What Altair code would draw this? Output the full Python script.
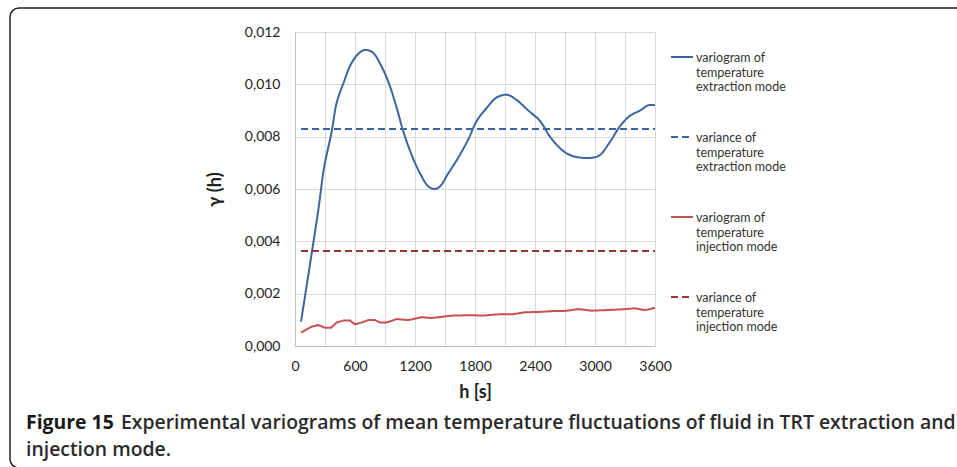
import altair as alt
import pandas as pd

# ---- data ----
h_ext = [60, 233, 290, 367, 417, 490, 550, 617, 683, 733, 783, 850, 933, 1017, 1083,
         1167, 1250, 1333, 1393, 1450, 1533, 1633, 1733, 1817, 1917, 2017, 2123, 2217,
         2333, 2450, 2550, 2667, 2750, 2850, 2983, 3050, 3150, 3250, 3350, 3450, 3533, 3600]
g_ext = [0.00093, 0.0052, 0.0068, 0.0082, 0.0093, 0.0101, 0.0107, 0.0111, 0.0113, 0.0113,
         0.0112, 0.0108, 0.0101, 0.0091, 0.0082, 0.0073, 0.0066, 0.0061, 0.0060, 0.0061,
         0.0066, 0.0072, 0.0079, 0.0086, 0.0091, 0.0095, 0.0096, 0.0094, 0.0090, 0.0086,
         0.0080, 0.0075, 0.0073, 0.0072, 0.0072, 0.0073, 0.0078, 0.0084, 0.0088, 0.0090,
         0.0092, 0.0092]

h_inj = [60, 167, 233, 300, 360, 417, 483, 550, 600, 667, 733, 800, 850, 917, 1017, 1133,
         1267, 1367, 1567, 1767, 1867, 2033, 2167, 2300, 2433, 2600, 2700, 2833, 2967,
         3100, 3267, 3400, 3500, 3600]
g_inj = [0.00051, 0.00074, 0.00080, 0.00070, 0.00070, 0.00090, 0.00097, 0.00097, 0.00083,
         0.00090, 0.00099, 0.00099, 0.00090, 0.00090, 0.00103, 0.00099, 0.00110, 0.00107,
         0.00116, 0.00118, 0.00116, 0.00121, 0.00121, 0.00129, 0.00130, 0.00134, 0.00134,
         0.00141, 0.00135, 0.00137, 0.00140, 0.00144, 0.00137, 0.00146]

h_span = [60, 3600]
var_ext = 0.00829
var_inj = 0.00363

series = ["variogram of|temperature|extraction mode",
          "variance of|temperature|extraction mode",
          "variogram of|temperature|injection mode",
          "variance of|temperature|injection mode"]
colors = ["#3b64a0", "#3b64a0", "#c9504f", "#953735"]
dashes = [[1, 0], [7, 4], [1, 0], [7, 4]]

x_ticks = list(range(0, 3601, 300))
y_ticks = [0.0, 0.002, 0.004, 0.006, 0.008, 0.010, 0.012]

caption_1 = "Figure 15"
caption_2 = "Experimental variograms of mean temperature fluctuations of fluid in TRT extraction and"
caption_3 = "injection mode."

# ---- tables ----
df_ext = pd.DataFrame({"h": h_ext, "g": g_ext, "series": series[0]})
df_other = pd.concat([
    pd.DataFrame({"h": h_span, "g": [var_ext] * 2, "series": series[1]}),
    pd.DataFrame({"h": h_inj, "g": g_inj, "series": series[2]}),
    pd.DataFrame({"h": h_span, "g": [var_inj] * 2, "series": series[3]}),
])

FONT = "Lato"

x_enc = alt.X("h:Q", scale=alt.Scale(domain=[0, 3600], nice=False, zero=False),
              axis=alt.Axis(values=x_ticks, format="d",
                            labelExpr="datum.value % 600 == 0 ? datum.label : ''",
                            labelFlush=False,
                            title="h [s]", titleX=180, titleY=46,
                            titleBaseline="middle", titleAlign="center",
                            ticks=False, labelPadding=13))
y_enc = alt.Y("g:Q", scale=alt.Scale(domain=[0, 0.012], nice=False),
              axis=alt.Axis(values=y_ticks,
                            labelExpr="replace(format(datum.value, '.3f'), '.', ',')",
                            title="γ (h)", titleX=-80, titleY=157,
                            titleBaseline="middle", titleAlign="center",
                            ticks=False, labelPadding=15))
legend = alt.Legend(title=None, orient="none", legendX=375, legendY=18,
                    direction="vertical", symbolType="M-1,-0.45L1,-0.45", symbolSize=484,
                    symbolStrokeWidth=2, labelExpr="split(datum.label, '|')",
                    labelFont=FONT, labelFontSize=12.5, labelColor="#333333",
                    labelLimit=300, labelBaseline="alphabetic", rowPadding=36, labelOffset=2)
color_enc = alt.Color("series:N", scale=alt.Scale(domain=series, range=colors), legend=legend)
dash_enc = alt.StrokeDash("series:N", scale=alt.Scale(domain=series, range=dashes), legend=legend)

ext_line = alt.Chart(df_ext).mark_line(interpolate="catmull-rom", strokeWidth=2).encode(
    x=x_enc, y=y_enc, color=color_enc, strokeDash=dash_enc)
other_lines = alt.Chart(df_other).mark_line(strokeWidth=2).encode(
    x=x_enc, y=y_enc, color=color_enc, strokeDash=dash_enc, detail="series:N")

one = alt.Data(values=[{}])
frame = alt.Chart(one).mark_rect(fillOpacity=0, stroke="#222222", strokeWidth=1.5,
                                 cornerRadius=9).encode(
    x=alt.value(-285), x2=alt.value(680), y=alt.value(-24), y2=alt.value(436))
cap_a = alt.Chart(one).mark_text(font="Open Sans", fontSize=19.4, fontWeight="bold",
                                 align="left", baseline="alphabetic", color="#1a1a1a").encode(
    x=alt.value(-269), y=alt.value(397), text=alt.value(caption_1))
cap_b = alt.Chart(one).mark_text(font="Open Sans", fontSize=19.4, fontWeight=600,
                                 align="left", baseline="alphabetic", color="#2a2a2a").encode(
    x=alt.value(-174), y=alt.value(397), text=alt.value(caption_2))
cap_c = alt.Chart(one).mark_text(font="Open Sans", fontSize=19.4, fontWeight=600,
                                 align="left", baseline="alphabetic", color="#2a2a2a").encode(
    x=alt.value(-269), y=alt.value(424), text=alt.value(caption_3))

chart = alt.layer(ext_line, other_lines, frame, cap_a, cap_b, cap_c).properties(
    width=360, height=314,
    autosize=alt.AutoSizeParams(type="none"),
    padding={"left": 295, "top": 32, "right": 302, "bottom": 121},
    background="white",
).configure_view(strokeWidth=0).configure_axis(
    labelFont=FONT, labelFontSize=14, labelColor="#222222",
    titleFont=FONT, titleFontSize=18, titleFontWeight="bold", titleColor="#222222",
    domainColor="#bfbfbf", gridColor="#d9d9d9", gridWidth=1,
)

chart.save("out.html", embed_options={"renderer": "svg", "actions": False})
